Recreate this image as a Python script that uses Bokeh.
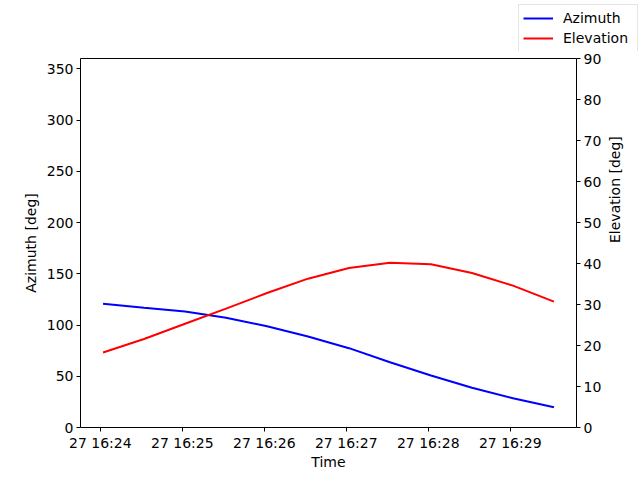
import math
import pandas as pd
from bokeh.plotting import figure
from bokeh.layouts import column, row, Spacer
from bokeh.models import (LinearAxis, Range1d, DatetimeTickFormatter, FixedTicker,
                          Legend, LegendItem)
from bokeh.embed import file_html
from bokeh.resources import INLINE

# ---- data ----
times = ["2024-01-27 16:24:02", "2024-01-27 16:24:32", "2024-01-27 16:25:02",
         "2024-01-27 16:25:32", "2024-01-27 16:26:02", "2024-01-27 16:26:32",
         "2024-01-27 16:27:02", "2024-01-27 16:27:32", "2024-01-27 16:28:02",
         "2024-01-27 16:28:32", "2024-01-27 16:29:02", "2024-01-27 16:29:32"]
azimuth = [120.7, 116.8, 113.2, 107.0, 98.8, 88.8, 77.4, 63.7, 50.7, 38.7, 28.6, 19.8]
elevation = [18.3, 21.6, 25.3, 29.0, 32.8, 36.3, 38.9, 40.2, 39.8, 37.7, 34.6, 30.7]
x_ticks = ["2024-01-27 16:24:00", "2024-01-27 16:25:00", "2024-01-27 16:26:00",
           "2024-01-27 16:27:00", "2024-01-27 16:28:00", "2024-01-27 16:29:00"]
az_ticks = [0, 50, 100, 150, 200, 250, 300, 350]
el_ticks = [0, 10, 20, 30, 40, 50, 60, 70, 80, 90]
series_names = ["Azimuth", "Elevation"]
series_colors = ["blue", "red"]

t = pd.to_datetime(times)
span = t[-1] - t[0]
x_start = t[0] - span * 0.05
x_end = t[-1] + span * 0.05

FONT = "DejaVu Sans"
LW = 2

# ---- main plot ----
p = figure(width=640, height=429, output_backend="svg", toolbar_location=None,
           x_axis_type="datetime", x_range=(x_start, x_end), y_range=Range1d(0, 360),
           min_border_left=80, min_border_right=64, min_border_top=7, min_border_bottom=53)
p.extra_y_ranges = {"el": Range1d(0, 90)}
p.grid.visible = False
p.outline_line_color = "black"
p.outline_line_width = 1
p.outline_line_alpha = 1

p.line(t, azimuth, line_color=series_colors[0], line_width=LW)
p.line(t, elevation, line_color=series_colors[1], line_width=LW, y_range_name="el")

tick_ms = [int(v) // 10**6 for v in pd.to_datetime(x_ticks).astype("int64")]
p.xaxis.ticker = FixedTicker(ticks=tick_ms)
fmt = "%d %H:%M"
p.xaxis.formatter = DatetimeTickFormatter(seconds=fmt, minsec=fmt, minutes=fmt, hourmin=fmt,
                                          hours=fmt, days=fmt, months=fmt, years=fmt)
p.xaxis.axis_label = "Time"
p.yaxis.ticker = FixedTicker(ticks=az_ticks)
p.yaxis.axis_label = "Azimuth [deg]"

el_axis = LinearAxis(y_range_name="el", axis_label="Elevation [deg]",
                     ticker=FixedTicker(ticks=el_ticks))
p.add_layout(el_axis, "right")

for ax in [p.xaxis[0], p.yaxis[0], el_axis]:
    ax.major_tick_in = 0
    ax.major_tick_out = 4
    ax.minor_tick_in = 0
    ax.minor_tick_out = 0
    ax.axis_line_color = None
    ax.major_tick_line_color = "black"
    ax.major_label_text_font = FONT
    ax.major_label_text_font_size = "14px"
    ax.major_label_text_color = "black"
    ax.axis_label_text_font = FONT
    ax.axis_label_text_font_size = "14px"
    ax.axis_label_text_font_style = "normal"
    ax.axis_label_text_color = "black"
    ax.major_label_standoff = 3
    ax.axis_label_standoff = 5
p.xaxis[0].axis_label_standoff = 0
el_axis.axis_label_orientation = math.pi / 2
el_axis.axis_label_standoff = 11

# ---- figure-level legend, top right ----
lg = figure(width=122, height=51, output_backend="svg", toolbar_location=None,
            x_axis_location=None, y_axis_location=None,
            x_range=Range1d(10, 11), y_range=Range1d(10, 11),
            min_border_left=0, min_border_right=2, min_border_top=4, min_border_bottom=0)
lg.grid.visible = False
lg.outline_line_color = None
items = []
for name, col in zip(series_names, series_colors):
    r = lg.line([0, 1], [0, 0], line_color=col, line_width=LW)
    items.append(LegendItem(label=name, renderers=[r]))
legend = Legend(items=items, location="top_left")
legend.label_text_font = FONT
legend.label_text_font_size = "14px"
legend.label_text_color = "black"
legend.glyph_width = 30
legend.glyph_height = 18
legend.label_height = 18
legend.label_width = 70
legend.spacing = 2
legend.padding = 4
legend.margin = 0
legend.label_standoff = 10
legend.border_line_color = "#cccccc"
legend.border_line_width = 1
legend.background_fill_alpha = 0.8
lg.add_layout(legend, "center")

top = row(Spacer(width=518, height=51), lg, spacing=0)
layout = column(top, p, spacing=0)
open("out.html", "w").write(file_html(layout, INLINE))
